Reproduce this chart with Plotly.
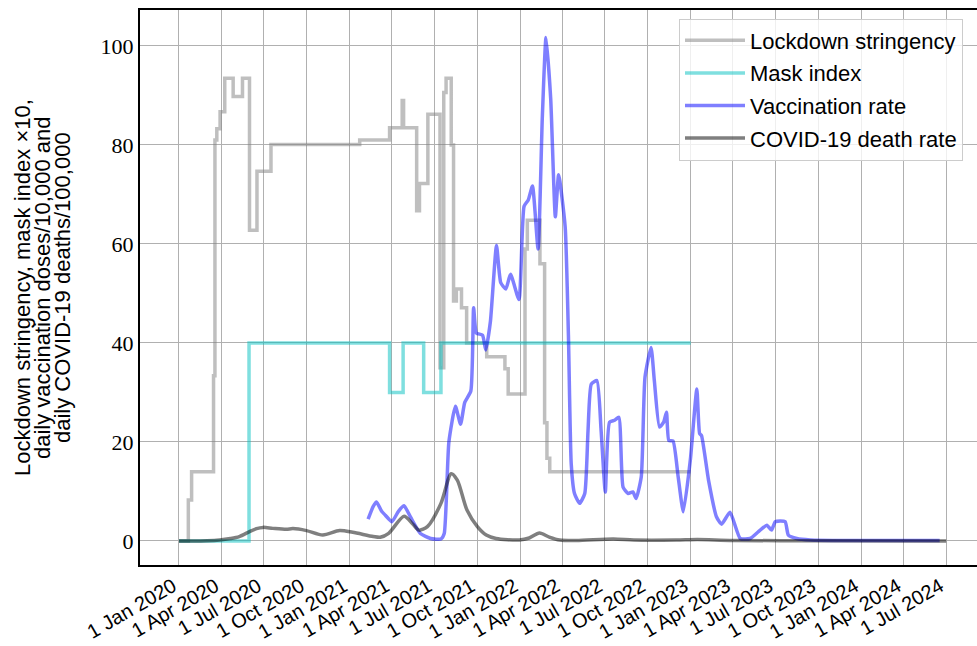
import plotly.graph_objects as go

# ---- Lockdown stringency (step changes) ----
string_dates = ["2020-01-01", "2020-01-21", "2020-01-28", "2020-03-15", "2020-03-18", "2020-03-22",
                "2020-03-29", "2020-04-08", "2020-04-26", "2020-05-16", "2020-05-31", "2020-06-16",
                "2020-07-16", "2021-01-22", "2021-03-27", "2021-04-23", "2021-04-26", "2021-05-24",
                "2021-05-30", "2021-06-17", "2021-07-13", "2021-07-21", "2021-07-26", "2021-08-06",
                "2021-08-11", "2021-08-17", "2021-08-28", "2021-09-08", "2021-10-21", "2021-11-29",
                "2021-12-06", "2022-01-11", "2022-01-16", "2022-02-12", "2022-02-22", "2022-02-27",
                "2022-03-05", "2023-01-01"]
string_vals = [0, 8.3, 14.0, 33.4, 81.0, 83.3,
               86.7, 93.5, 89.8, 93.5, 62.8, 74.7,
               80.1, 81.0, 83.5, 89.0, 83.5, 66.7,
               72.2, 86.2, 35.0, 90.6, 93.5, 80.0,
               48.5, 50.9, 47.1, 40.0, 37.2, 34.8,
               29.7, 59.0, 64.8, 56.0, 23.9, 16.7,
               14.0, 14.0]

# ---- Mask index x10 (step changes) ----
mask_dates = ["2020-01-01", "2020-05-30", "2021-03-27", "2021-04-25", "2021-06-08", "2021-07-15", "2023-01-01"]
mask_vals = [0, 40, 30, 40, 30, 40, 40]

# ---- Vaccination rate (doses / 10,000) ----
vacc_dates = ["2021-02-09", "2021-02-20", "2021-02-27", "2021-03-10", "2021-03-18", "2021-04-01",
              "2021-04-15", "2021-04-27", "2021-05-11", "2021-06-01", "2021-06-23", "2021-07-15",
              "2021-07-22", "2021-08-01", "2021-08-15", "2021-08-26", "2021-09-04", "2021-09-17",
              "2021-09-23", "2021-09-29", "2021-10-12", "2021-10-19", "2021-10-29", "2021-11-11",
              "2021-11-20", "2021-12-01", "2021-12-11", "2021-12-29", "2022-01-09", "2022-01-18",
              "2022-01-27", "2022-02-08", "2022-02-17", "2022-02-25", "2022-03-07", "2022-03-17",
              "2022-03-24", "2022-04-07", "2022-04-14", "2022-04-20", "2022-04-27", "2022-05-08",
              "2022-05-19", "2022-05-26", "2022-06-02", "2022-06-14", "2022-06-23", "2022-07-02",
              "2022-07-11", "2022-07-22", "2022-07-31", "2022-08-09", "2022-08-20", "2022-08-30",
              "2022-09-06", "2022-09-17", "2022-09-25", "2022-10-08", "2022-10-15", "2022-10-26",
              "2022-11-04", "2022-11-10", "2022-11-15", "2022-11-24", "2022-12-05", "2022-12-16",
              "2022-12-31", "2023-01-14", "2023-01-20", "2023-01-24", "2023-02-08", "2023-02-25",
              "2023-03-08", "2023-03-26", "2023-04-17", "2023-05-08", "2023-05-26", "2023-06-13",
              "2023-06-23", "2023-07-01", "2023-07-22", "2023-07-29", "2023-08-16", "2023-09-14",
              "2023-12-01", "2024-06-17"]
vacc_vals = [4.4, 7.0, 7.9, 6.0, 5.2, 3.9,
             6.0, 7.1, 4.8, 1.5, 0.5, 0.4,
             1.5, 20.0, 27.2, 23.6, 28.0, 30.3,
             47.1, 42.0, 41.6, 38.6, 44.4, 59.7,
             52.2, 50.9, 53.9, 48.8, 67.6, 68.9,
             71.7, 59.0, 85.3, 101.7, 89.4, 65.5,
             74.0, 63.5, 41.6, 15.6, 9.6, 7.6,
             9.6, 22.3, 31.7, 32.4, 22.3, 9.9,
             24.0, 24.4, 25.0, 10.9, 9.6, 9.9,
             8.6, 13.0, 33.1, 39.1, 32.4, 23.0,
             24.0, 26.0, 20.3, 20.2, 13.0, 5.9,
             16.3, 30.7, 21.7, 21.3, 12.3, 4.9,
             3.4, 5.8, 0.5, 0.5, 1.9, 3.2,
             2.2, 3.9, 3.9, 1.2, 0.5, 0.2,
             0.1, 0.1]

# ---- COVID-19 death rate (deaths / 100,000) ----
death_dates = ["2020-01-01", "2020-01-20", "2020-03-01", "2020-03-28", "2020-04-20", "2020-05-09",
               "2020-05-31", "2020-06-15", "2020-06-29", "2020-07-20", "2020-08-18", "2020-09-01",
               "2020-09-30", "2020-11-04", "2020-12-10", "2021-01-07", "2021-02-20", "2021-03-07",
               "2021-03-25", "2021-04-27", "2021-05-15", "2021-05-29", "2021-06-16", "2021-07-15",
               "2021-08-06", "2021-08-19", "2021-09-09", "2021-10-01", "2021-10-20", "2021-11-10",
               "2021-12-30", "2022-01-20", "2022-02-11", "2022-03-04", "2022-03-26", "2022-05-01",
               "2022-07-19", "2022-09-01", "2022-12-01", "2023-01-15", "2023-04-01", "2023-10-01",
               "2024-07-01"]
death_vals = [0.0, 0.0, 0.05, 0.2, 0.5, 0.9,
              1.9, 2.5, 2.75, 2.55, 2.35, 2.5,
              2.1, 1.2, 2.1, 1.75, 0.9, 0.75,
              1.55, 5.0, 3.5, 2.2, 2.9, 7.6,
              13.6, 12.3, 6.2, 2.9, 1.2, 0.5,
              0.2, 0.6, 1.6, 0.8, 0.2, 0.1,
              0.4, 0.2, 0.2, 0.3, 0.1, 0.05,
              0.0]

y_ticks = [0, 20, 40, 60, 80, 100]
title_lines = ["Lockdown stringency, mask index \u00d710,",
               "daily vaccination doses/10,000 and",
               "daily COVID-19 deaths/100,000"]

SANS = "Liberation Sans"
SERIF = "Liberation Serif"
LW = 3.5

fig = go.Figure()
fig.add_trace(go.Scatter(x=string_dates, y=string_vals, mode="lines", name="Lockdown stringency",
                         line=dict(color="rgba(128,128,128,0.5)", width=LW, shape="hv"),
                         legendgroup="a"))
fig.add_trace(go.Scatter(x=mask_dates, y=mask_vals, mode="lines", name="Mask index",
                         line=dict(color="rgba(0,191,191,0.5)", width=LW, shape="hv"),
                         legendgroup="b"))
fig.add_trace(go.Scatter(x=vacc_dates, y=vacc_vals, mode="lines", name="Vaccination rate",
                         line=dict(color="rgba(0,0,255,0.5)", width=LW, shape="spline", smoothing=0.5),
                         legendgroup="c"))
fig.add_trace(go.Scatter(x=death_dates, y=death_vals, mode="lines", name="COVID-19 death rate",
                         line=dict(color="rgba(0,0,0,0.5)", width=LW, shape="spline", smoothing=0.8),
                         legendgroup="d"))

W, H = 977, 646
ML, MR, MT, MB = 140, 0, 10, 81
pw = W - ML - MR
ph = H - MT - MB

fig.update_layout(
    width=W, height=H, autosize=False,
    margin=dict(l=ML, r=MR, t=MT, b=MB, autoexpand=False),
    plot_bgcolor="white", paper_bgcolor="white",
    showlegend=True,
    legend=dict(x=(679 - ML) / pw, y=(H - MB - 18.5) / ph, xanchor="left", yanchor="top",
                bgcolor="rgba(255,255,255,0.8)", bordercolor="#cccccc", borderwidth=1,
                font=dict(family=SANS, size=22, color="black"),
                tracegroupgap=1, traceorder="grouped", itemwidth=60),
    xaxis=dict(type="date", range=["2019-10-09 12:00", "2024-09-05"],
               tick0="2020-01-01", dtick="M3", tickformat="%-d %b %Y", tickangle=-30,
               tickfont=dict(family=SANS, size=20, color="black"),
               ticklabelshift=-6, ticklabelstandoff=0,
               showgrid=True, gridcolor="#b0b0b0", gridwidth=1.2,
               showline=True, linecolor="black", linewidth=2, mirror=True,
               ticks="", zeroline=False),
    yaxis=dict(range=[-4.85, 107.27], tickvals=y_ticks,
               tickfont=dict(family=SERIF, size=22, color="black"),
               showgrid=True, gridcolor="#b0b0b0", gridwidth=1.2,
               showline=True, linecolor="black", linewidth=2, mirror=False,
               ticks="", zeroline=False),
)

for txt, px in zip(title_lines, [22, 42, 62]):
    fig.add_annotation(text=txt, xref="paper", yref="paper",
                       x=(px - ML) / pw, y=(H - MB - 288) / ph,
                       xanchor="center", yanchor="middle", textangle=-90, showarrow=False,
                       font=dict(family=SANS, size=22, color="black"))

fig.write_html("out.html", config={"responsive": False, "displayModeBar": False},
               post_script="document.body.style.margin='0px';document.body.style.overflow='hidden';")
